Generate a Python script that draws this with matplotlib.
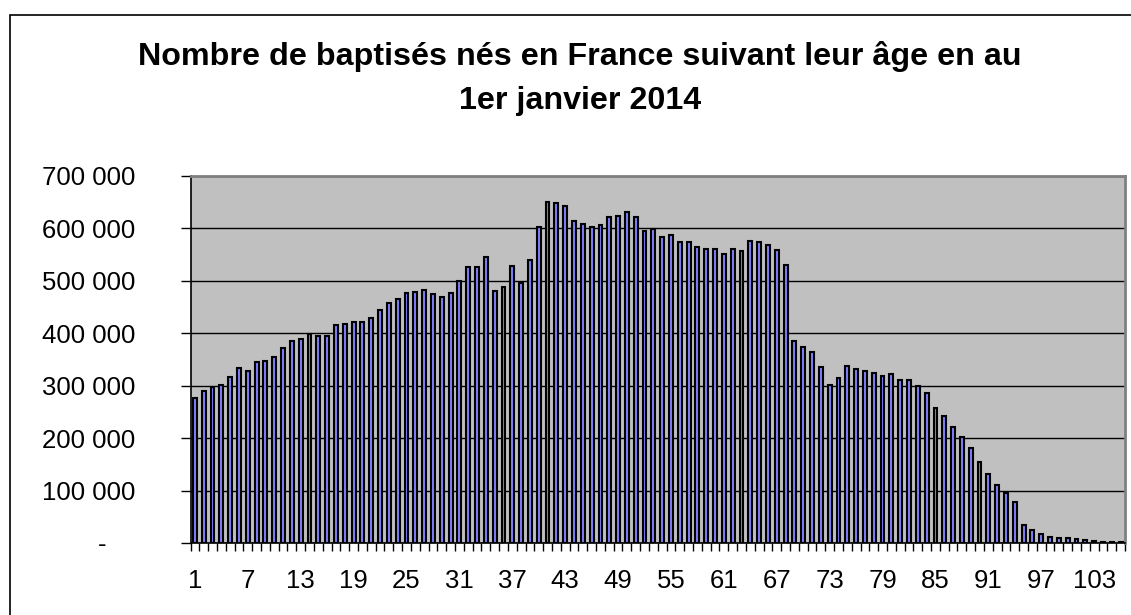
import matplotlib.pyplot as plt
from matplotlib.patches import Rectangle
from matplotlib.transforms import ScaledTranslation
from matplotlib.ticker import FixedLocator

plt.rcParams['font.family'] = ['Liberation Sans', 'DejaVu Sans']

# ages 1..106 and number of baptised people
ages = list(range(1, 107))
baptises = [
    277000, 290000, 297000, 302000, 316000, 334000, 329000, 345000, 348000, 354000,
    371000, 385000, 390000, 399000, 394000, 394000, 415000, 418000, 422000, 422000,
    429000, 445000, 458000, 466000, 476000, 479000, 483000, 475000, 469000, 477000,
    499000, 527000, 527000, 545000, 480000, 488000, 528000, 496000, 539000, 602000,
    650000, 648000, 643000, 615000, 608000, 603000, 606000, 622000, 624000, 631000,
    622000, 596000, 598000, 583000, 588000, 574000, 574000, 564000, 561000, 561000,
    552000, 561000, 557000, 576000, 575000, 568000, 559000, 531000, 386000, 373000,
    365000, 336000, 301000, 314000, 338000, 332000, 329000, 324000, 318000, 322000,
    310000, 311000, 300000, 286000, 258000, 242000, 221000, 203000, 182000, 154000,
    131000, 111000, 96000, 79000, 35000, 25000, 17000, 11000, 10000, 10000,
    8000, 6000, 4000, 2500, 2000, 1000,
]
yticks = [0, 100000, 200000, 300000, 400000, 500000, 600000, 700000]
ytick_labels = ['-', '100 000', '200 000', '300 000', '400 000', '500 000', '600 000', '700 000']
xtick_ages = ages[::6]

fig = plt.figure(figsize=(11.31, 6.15), dpi=100)
ax = fig.add_axes([190.5 / 1131, 1 - 543 / 615, (1125 - 190.5) / 1131, (543 - 176) / 615])

# outer frame
fig.patches.append(Rectangle((10 / 1131, -0.05), 1.2, 1 - 14.5 / 615 + 0.05,
                             transform=fig.transFigure, fill=False,
                             edgecolor='black', linewidth=1.2))

ax.set_facecolor('#C0C0C0')
ax.bar(ages, baptises, width=0.44, color='#8080FF', edgecolor='black', linewidth=1.5, zorder=3)

ax.set_xlim(0.5, 106.5)
ax.set_ylim(0, 700000)
ax.set_yticks(yticks)
ax.set_yticklabels(ytick_labels)
ax.yaxis.grid(True, color='black', linewidth=1.0, zorder=1)
ax.set_axisbelow(True)

ax.set_xticks(xtick_ages)
ax.set_xticklabels([str(a) for a in xtick_ages])
ax.tick_params(axis='x', which='major', length=0, pad=19, labelsize=18.5)
ax.xaxis.set_minor_locator(FixedLocator([a + 0.5 for a in [0] + ages]))
ax.tick_params(axis='x', which='minor', length=6, width=1, color='black')
ax.tick_params(axis='y', length=7, width=1, pad=33, labelsize=18.5)

for side in ['top', 'right']:
    ax.spines[side].set_color('#808080')
    ax.spines[side].set_linewidth(2)
ax.spines['left'].set_linewidth(1.2)
ax.spines['bottom'].set_linewidth(1.2)

# accounting-style dash for zero sits further left
lbl = ax.get_yticklabels()[0]
lbl.set_transform(lbl.get_transform() + ScaledTranslation(-29 / 100, 0, fig.dpi_scale_trans))

fig.text(580 / 1131, 1 - 57 / 615, 'Nombre de baptisés nés en France suivant leur âge en au',
         ha='center', va='center', fontsize=23.2, fontweight='bold')
fig.text(580 / 1131, 1 - 101 / 615, '1er janvier 2014',
         ha='center', va='center', fontsize=23.2, fontweight='bold')

fig.savefig('out.png', dpi=100)
